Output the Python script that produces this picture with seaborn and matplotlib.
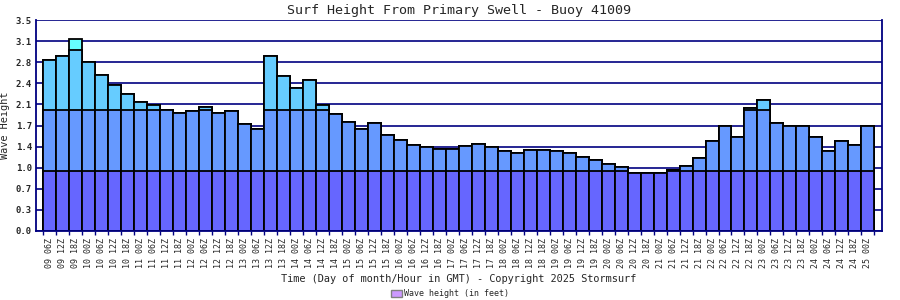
import matplotlib
matplotlib.use("Agg")
import matplotlib.pyplot as plt
import seaborn as sns
import numpy as np
import pandas as pd
from matplotlib.patches import Patch

labels = [
    "09 06Z", "09 12Z", "09 18Z",
    "10 00Z", "10 06Z", "10 12Z", "10 18Z",
    "11 00Z", "11 06Z", "11 12Z", "11 18Z",
    "12 00Z", "12 06Z", "12 12Z", "12 18Z",
    "13 00Z", "13 06Z", "13 12Z", "13 18Z",
    "14 00Z", "14 06Z", "14 12Z", "14 18Z",
    "15 00Z", "15 06Z", "15 12Z", "15 18Z",
    "16 00Z", "16 06Z", "16 12Z", "16 18Z",
    "17 00Z", "17 06Z", "17 12Z", "17 18Z",
    "18 00Z", "18 06Z", "18 12Z", "18 18Z",
    "19 00Z", "19 06Z", "19 12Z", "19 18Z",
    "20 00Z", "20 06Z", "20 12Z", "20 18Z",
    "21 00Z", "21 06Z", "21 12Z", "21 18Z",
    "22 00Z", "22 06Z", "22 12Z", "22 18Z",
    "23 00Z", "23 06Z", "23 12Z", "23 18Z",
    "24 00Z", "24 06Z", "24 12Z", "24 18Z",
    "25 00Z",
]

heights = [
    2.83, 2.90, 3.18,
    2.80, 2.58, 2.42, 2.27,
    2.14, 2.09, 2.01, 1.95,
    1.99, 2.05, 1.95, 1.99,
    1.77, 1.69, 2.90, 2.57,
    2.38, 2.50, 2.09, 1.94,
    1.80, 1.70, 1.79, 1.59,
    1.51, 1.42, 1.39, 1.36,
    1.36, 1.41, 1.44, 1.39,
    1.32, 1.29, 1.34, 1.34,
    1.32, 1.29, 1.22, 1.17,
    1.11, 1.06, 0.97, 0.97,
    0.97, 1.02, 1.08, 1.21,
    1.49, 1.74, 1.56, 2.04,
    2.17, 1.79, 1.75, 1.75,
    1.56, 1.32, 1.49, 1.42,
    1.75,
]

ytick_values = [0.0, 0.35, 0.7, 1.05, 1.4, 1.75, 2.1, 2.45, 2.8, 3.15, 3.5]
ytick_labels = ["0.0", "0.3", "0.7", "1.0", "1.4", "1.7", "2.1", "2.4", "2.8", "3.1", "3.5"]

# colour bands (upper limit, colour), drawn from top band down
band_limits = [99.0, 3.0, 2.0, 1.0]
band_colors = ["#66ffff", "#66ccff", "#6699ff", "#6666ff"]

sns.set_theme(style="white")
plt.rcParams["font.family"] = ["DejaVu Sans Mono", "DejaVu Sans"]

fig = plt.figure(figsize=(9, 3), dpi=100)
ax = fig.add_axes([0.0403, 0.23, 0.9394, 0.7033])

navy = "#000080"
for yv in ytick_values:
    ax.axhline(yv, color=navy, lw=1.2, zorder=0)

df = pd.DataFrame({"label": labels, "h": heights})
for lim, col in zip(band_limits, band_colors):
    sub = df.assign(v=np.minimum(df["h"], lim))
    sns.barplot(data=sub, x="label", y="v", order=labels, color=col,
                saturation=1, width=1.0, edgecolor="black", linewidth=1.3,
                ax=ax, zorder=2)

ax.set_xlim(-1.04, 64.07)
ax.set_ylim(0, 3.5)
ax.set_yticks(ytick_values)
ax.set_yticklabels(ytick_labels, fontsize=6.5, fontweight="bold")
ax.tick_params(axis="y", length=0, pad=3)
ax.set_xticks(range(len(labels)))
ax.set_xticklabels(labels, rotation=90, fontsize=6)
ax.tick_params(axis="x", length=0, pad=5)
ax.set_xticks(np.arange(-0.5, len(labels), 1.0), minor=True)
ax.tick_params(axis="x", which="minor", length=3, color=navy, width=1, bottom=True)

for s in ["left", "right", "bottom"]:
    ax.spines[s].set_visible(True)
    ax.spines[s].set_color(navy)
    ax.spines[s].set_linewidth(1.3)
ax.spines["top"].set_visible(False)

ax.set_xlabel("Time (Day of month/Hour in GMT) - Copyright 2025 Stormsurf",
              fontsize=7.4, labelpad=4)
ax.set_ylabel("Wave Height", fontsize=7.4, labelpad=4)
ax.set_title("Surf Height From Primary Swell - Buoy 41009", fontsize=9.6, pad=4)

handle = Patch(facecolor="#cc99ff", edgecolor="#808080", linewidth=1)
fig.legend(handles=[handle], labels=["Wave height (in feet)"], loc="lower center",
           bbox_to_anchor=(0.5, -0.02), frameon=False, fontsize=6,
           handlelength=1.3, handleheight=0.9, handletextpad=0.3)

fig.savefig("out.png", dpi=100)
